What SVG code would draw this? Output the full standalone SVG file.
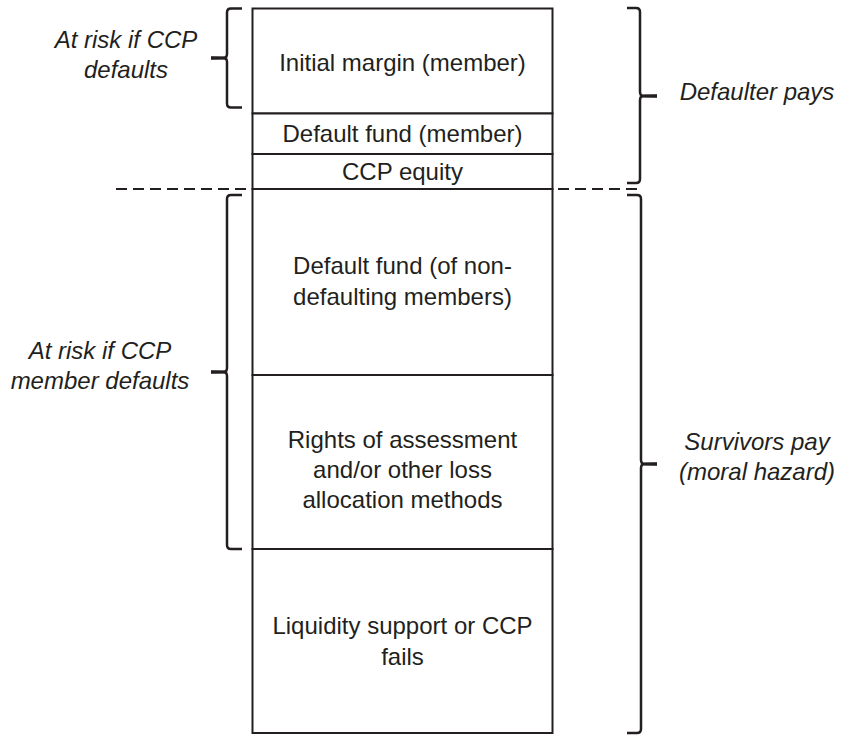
<svg xmlns="http://www.w3.org/2000/svg" width="841" height="735" viewBox="0 0 841 735">
  <style>
    .box { fill: #ffffff; stroke: #231f20; stroke-width: 2; }
    .lbl { font-family: "Liberation Sans", Arial, sans-serif; font-size: 24px; fill: #231f20; text-anchor: middle; }
    .side { font-family: "Liberation Sans", Arial, sans-serif; font-size: 24px; fill: #231f20; font-style: italic; text-anchor: middle; }
    .brace { fill: none; stroke: #231f20; stroke-width: 2.5; stroke-linejoin: round; stroke-linecap: butt; }
    .tip { fill: #231f20; stroke: none; }
    .cut { fill: none; stroke: #231f20; stroke-width: 2; stroke-dasharray: 11 6; }
  </style>

  <!-- Stack of loss-absorbing layers -->
  <g id="initial-margin">
    <rect class="box" x="252.5" y="8.5" width="300" height="105"/>
    <text class="lbl" x="402.5" y="71">Initial margin (member)</text>
  </g>
  <g id="default-fund-member">
    <rect class="box" x="252.5" y="113.5" width="300" height="40.5"/>
    <text class="lbl" x="402.5" y="142">Default fund (member)</text>
  </g>
  <g id="ccp-equity">
    <rect class="box" x="252.5" y="154" width="300" height="35"/>
    <text class="lbl" x="402.5" y="180">CCP equity</text>
  </g>
  <g id="default-fund-survivors">
    <rect class="box" x="252.5" y="189" width="300" height="186"/>
    <text class="lbl" x="402.5" y="274">Default fund (of non-</text>
    <text class="lbl" x="402.5" y="305">defaulting members)</text>
  </g>
  <g id="rights-of-assessment">
    <rect class="box" x="252.5" y="375" width="300" height="174"/>
    <text class="lbl" x="402.5" y="448">Rights of assessment</text>
    <text class="lbl" x="402.5" y="478">and/or other loss</text>
    <text class="lbl" x="402.5" y="508">allocation methods</text>
  </g>
  <g id="liquidity-support">
    <rect class="box" x="252.5" y="549" width="300" height="184"/>
    <text class="lbl" x="402.5" y="634">Liquidity support or CCP</text>
    <text class="lbl" x="402.5" y="665">fails</text>
  </g>

  <!-- Side annotations -->
  <g id="risk-ccp-defaults">
    <text class="side" x="126" y="48">At risk if CCP</text>
    <text class="side" x="126" y="78">defaults</text>
  </g>
  <g id="risk-member-defaults">
    <text class="side" x="100" y="359">At risk if CCP</text>
    <text class="side" x="100" y="389">member defaults</text>
  </g>
  <g id="defaulter-pays">
    <text class="side" x="757" y="100">Defaulter pays</text>
  </g>
  <g id="survivors-pay">
    <text class="side" x="757" y="450">Survivors pay</text>
    <text class="side" x="757" y="480">(moral hazard)</text>
  </g>

  <!-- Braces and the defaulter/survivor boundary -->
  <g id="connectors">
    <line class="cut" x1="116" y1="189" x2="642" y2="189"/>
    <path class="brace" d="M242,8.5 L231,8.5 Q227,8.5 227,12.5 L227,54 Q227,58 223,58 L211,58 M223,58 Q227,58 227,62 L227,103.5 Q227,107.5 231,107.5 L242,107.5"/>
    <path class="tip" d="M211,56.2 L224,56.5 L228,58 L224,59.5 L211,59.8 Z"/>
    <path class="brace" d="M242,195 L231,195 Q227,195 227,199 L227,368 Q227,372 223,372 L211,372 M223,372 Q227,372 227,376 L227,545 Q227,549 231,549 L242,549"/>
    <path class="tip" d="M211,370.2 L224,370.5 L228,372 L224,373.5 L211,373.8 Z"/>
    <path class="brace" d="M627,8 L636,8 Q640,8 640,12 L640,92 Q640,96 644,96 L657,96 M644,96 Q640,96 640,100 L640,179 Q640,183 636,183 L627,183"/>
    <path class="tip" d="M657,94.2 L644,94.5 L639,96 L644,97.5 L657,97.8 Z"/>
    <path class="brace" d="M627,195 L637,195 Q641,195 641,199 L641,460 Q641,464 645,464 L657,464 M645,464 Q641,464 641,468 L641,729 Q641,733 637,733 L627,733"/>
    <path class="tip" d="M657,462.2 L645,462.5 L640,464 L645,465.5 L657,465.8 Z"/>
  </g>
</svg>
